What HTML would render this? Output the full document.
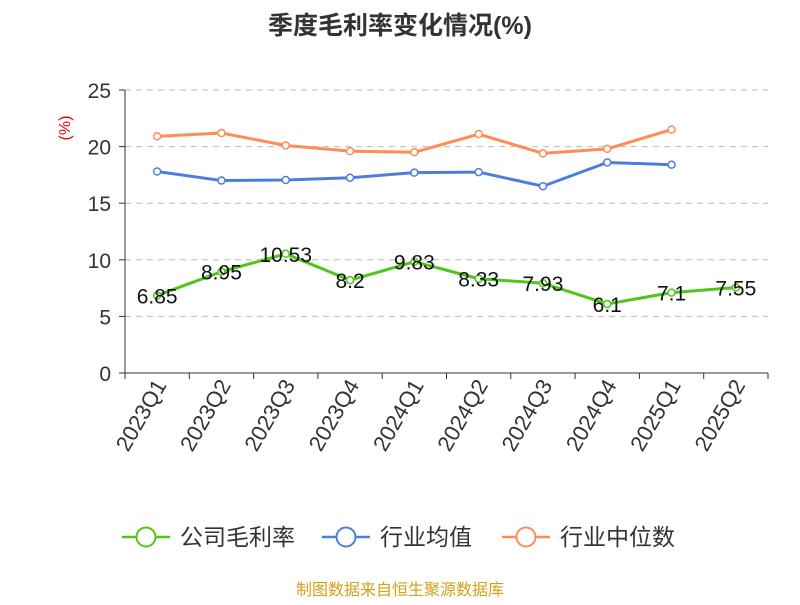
<!DOCTYPE html>
<html><head><meta charset="utf-8"><style>
body{margin:0;background:#fff;font-family:"Liberation Sans","Noto Sans CJK SC",sans-serif;}
svg text{font-family:"Liberation Sans","Noto Sans CJK SC",sans-serif;}
</style></head><body>
<svg id="c" width="800" height="600">
<text x="400" y="34" text-anchor="middle" font-size="25" font-weight="bold" fill="#333">季度毛利率变化情况(%)</text>
<text x="70" y="128" fill="#e00" font-size="16" transform="rotate(-90 70 128)" text-anchor="middle">(%)</text>
<g id="grid"></g><g id="axes"></g><g id="series"></g>
<g font-size="23" fill="#333">
<g><line x1="122" y1="537" x2="170" y2="537" stroke="#52c41a" stroke-width="2.5"/><circle cx="146" cy="537" r="9.5" fill="#fff" stroke="#52c41a" stroke-width="2"/><text x="180" y="545">公司毛利率</text></g>
<g><line x1="322" y1="537" x2="370" y2="537" stroke="#4a7fe0" stroke-width="2.5"/><circle cx="346" cy="537" r="9.5" fill="#fff" stroke="#4a7fe0" stroke-width="2"/><text x="380" y="545">行业均值</text></g>
<g><line x1="502" y1="537" x2="550" y2="537" stroke="#ff8c55" stroke-width="2.5"/><circle cx="526" cy="537" r="9.5" fill="#fff" stroke="#ff8c55" stroke-width="2"/><text x="560" y="545">行业中位数</text></g>
</g>
<text x="400" y="595" text-anchor="middle" font-size="16" fill="#d4a017">制图数据来自恒生聚源数据库</text>
</svg>
<script>
const categories=["2023Q1","2023Q2","2023Q3","2023Q4","2024Q1","2024Q2","2024Q3","2024Q4","2025Q1","2025Q2"];
const companyValues=[6.85,8.95,10.53,8.2,9.83,8.33,7.93,6.1,7.1,7.55];
const avgValues=[17.8,17.0,17.05,17.25,17.7,17.75,16.5,18.6,18.4];
const medianValues=[20.9,21.2,20.1,19.6,19.5,21.1,19.4,19.8,21.5];
const yTicks=[0,5,10,15,20,25];
const NS="http://www.w3.org/2000/svg";
const x0=125,x1=768,yb=373,yt=90,ymax=25;
const step=(x1-x0)/categories.length;
const X=i=>x0+step*(i+0.5);
const Y=v=>yb-(v/ymax)*(yb-yt);
function mk(tag,attrs,parent,txt){const e=document.createElementNS(NS,tag);for(const k in attrs)e.setAttribute(k,attrs[k]);if(txt!==undefined)e.textContent=txt;parent.appendChild(e);return e;}
const grid=document.getElementById('grid'),axes=document.getElementById('axes'),ser=document.getElementById('series');
yTicks.forEach(t=>{
 if(t>0){const g=mk('line',{x1:x0,x2:x1,y1:Y(t),y2:Y(t),stroke:'#bbb','stroke-dasharray':'6,5'},grid);
 
 }
 mk('line',{x1:x0-6,x2:x0,y1:Y(t),y2:Y(t),stroke:'#333'},axes);
 const l=mk('text',{x:x0-14,y:Y(t)+8,'text-anchor':'end','font-size':21,fill:'#333'},axes,t);
 
 
});
mk('line',{x1:x0,x2:x0,y1:yt,y2:yb,stroke:'#333'},axes);
mk('line',{x1:x0,x2:x1,y1:yb,y2:yb,stroke:'#333'},axes);
for(let i=0;i<=categories.length;i++)mk('line',{x1:x0+step*i,x2:x0+step*i,y1:yb,y2:yb+6,stroke:'#333'},axes);
categories.forEach((c,i)=>{
 const t=mk('text',{x:X(i)+10,y:yb+12,'text-anchor':'end','font-size':22,fill:'#333',transform:`rotate(-60 ${X(i)+10} ${yb+12})`},axes,c);
 
 
});
function series(vals,color,name,labels){
 const pts=vals.map((v,i)=>X(i)+','+Y(v)).join(' ');
 const pl=mk('polyline',{points:pts,fill:'none',stroke:color,'stroke-width':3},ser);
 
 
 vals.forEach((v,i)=>{
  const c=mk('circle',{cx:X(i),cy:Y(v),r:3.5,fill:'#fff',stroke:color,'stroke-width':1.5},ser);
  
  
  if(labels){const t=mk('text',{x:X(i),y:Y(v)+8,'text-anchor':'middle','font-size':21,fill:'#111'},ser,v);
  
  }
 });
}
series(medianValues,'#ff8c55','industry-median',false);
series(avgValues,'#4a7fe0','industry-avg',false);
series(companyValues,'#52c41a','company',true);
</script>
</body></html>
